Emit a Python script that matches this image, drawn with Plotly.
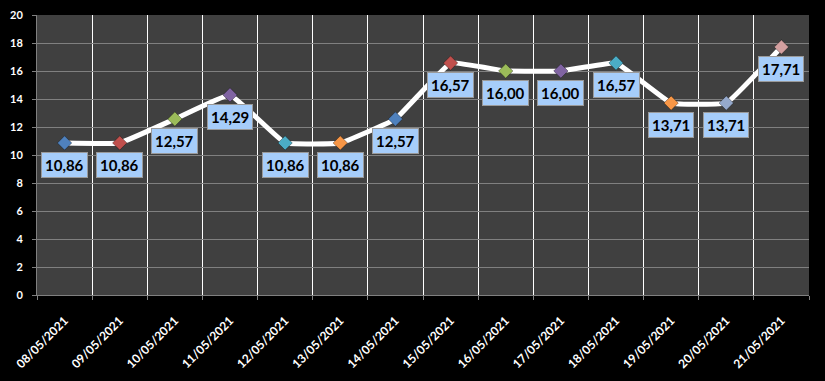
import plotly.graph_objects as go

dates = ["08/05/2021", "09/05/2021", "10/05/2021", "11/05/2021", "12/05/2021",
         "13/05/2021", "14/05/2021", "15/05/2021", "16/05/2021", "17/05/2021",
         "18/05/2021", "19/05/2021", "20/05/2021", "21/05/2021"]
values = [10.86, 10.86, 12.57, 14.29, 10.86, 10.86, 12.57, 16.57, 16.00, 16.00,
          16.57, 13.71, 13.71, 17.71]
marker_colors = ["#4F81BD", "#C0504D", "#9BBB59", "#8064A2", "#4BACC6", "#F79646",
                 "#4F81BD", "#C0504D", "#9BBB59", "#8064A2", "#4BACC6", "#F79646",
                 "#95A9CC", "#D4A0A0"]
y_ticks = list(range(0, 21, 2))

FONT = "Lato, 'Open Sans', sans-serif"

fig = go.Figure()
fig.add_trace(go.Scatter(
    x=dates, y=values, mode="lines+markers",
    line=dict(color="white", width=5, shape="spline", smoothing=0.25),
    marker=dict(symbol="diamond", size=11, color=marker_colors,
                line=dict(color="rgba(0,0,0,0.35)", width=1)),
    showlegend=False, hoverinfo="skip",
))

for d, v in zip(dates, values):
    fig.add_annotation(
        x=d, y=v, xref="x", yref="y", showarrow=False, yshift=-22,
        text="<b>" + f"{v:.2f}".replace(".", ",") + "</b>",
        font=dict(family=FONT, size=15, color="black"),
        bgcolor="#a6cdfa", bordercolor="#9a9a9a", borderwidth=1, borderpad=3,
    )

fig.update_layout(
    width=825, height=381,
    margin=dict(l=37, r=16, t=15, b=86),
    paper_bgcolor="black", plot_bgcolor="#404040",
    font=dict(family=FONT, color="white"),
)
fig.update_xaxes(
    type="category", range=[-0.5, len(dates) - 0.5], tickson="boundaries",
    showgrid=True, gridcolor="white", gridwidth=1,
    ticks="outside", ticklen=4, tickcolor="#808080", showline=True, linecolor="#808080",
    tickangle=-45, tickfont=dict(family=FONT, size=12, color="white", weight="bold"),
    ticklabelstandoff=13, automargin=False,
)
fig.update_yaxes(
    range=[0, 20], tickvals=y_ticks, showgrid=True, gridcolor="#808080", gridwidth=1,
    ticks="outside", ticklen=4, tickcolor="#808080", showline=True, linecolor="#808080",
    tickfont=dict(family=FONT, size=11, color="white", weight="bold"),
    zeroline=False, ticklabelstandoff=7, automargin=False,
)

fig.write_html(
    "out.html",
    config={"displayModeBar": False},
    post_script="document.body.style.margin='0px';document.body.style.background='black';",
)
